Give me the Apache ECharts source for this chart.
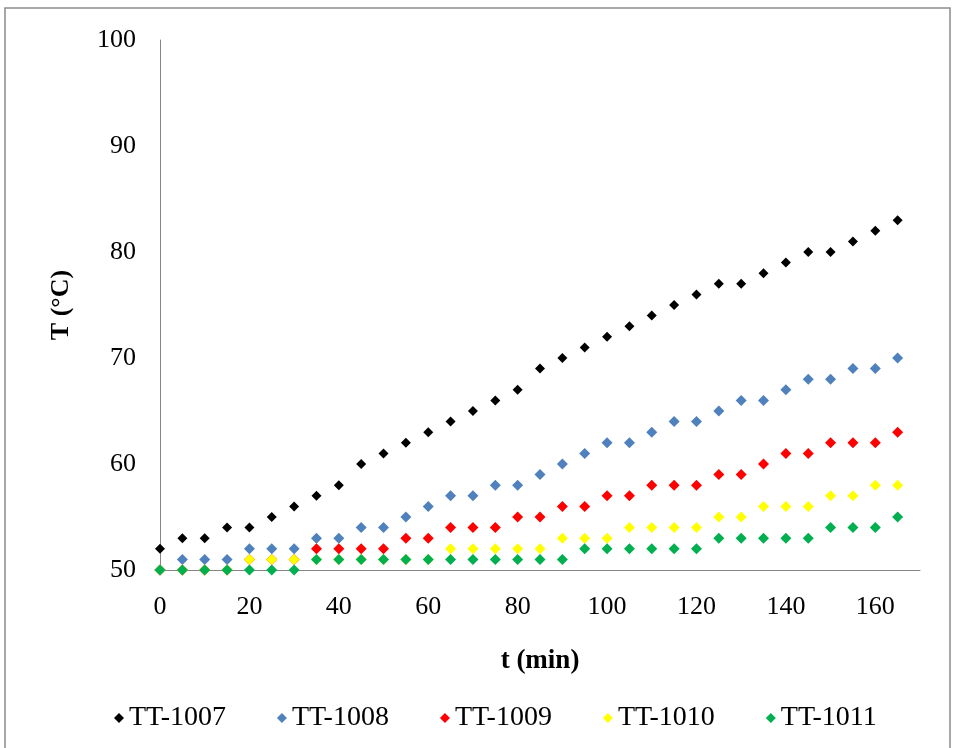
<!DOCTYPE html>
<html>
<head>
<meta charset="utf-8">
<script src="https://cdn.jsdelivr.net/npm/echarts@6/dist/echarts.min.js"></script>
<style>
  html, body { margin: 0; padding: 0; background: #fff; }
  #main { width: 958px; height: 748px; }
</style>
</head>
<body>
<div id="main"></div>
<script>
// time in minutes
const minutes = [0, 5, 10, 15, 20, 25, 30, 35, 40, 45, 50, 55, 60, 65, 70, 75, 80, 85,
  90, 95, 100, 105, 110, 115, 120, 125, 130, 135, 140, 145, 150, 155, 160, 165];

// temperatures (°C)
const tt1007 = [52, 53, 53, 54, 54, 55, 56, 57, 58, 60, 61, 62, 63, 64, 65, 66, 67, 69,
  70, 71, 72, 73, 74, 75, 76, 77, 77, 78, 79, 80, 80, 81, 82, 83];
const tt1008 = [50, 51, 51, 51, 52, 52, 52, 53, 53, 54, 54, 55, 56, 57, 57, 58, 58, 59,
  60, 61, 62, 62, 63, 64, 64, 65, 66, 66, 67, 68, 68, 69, 69, 70];
const tt1009 = [50, 50, 50, 50, 51, 51, 51, 52, 52, 52, 52, 53, 53, 54, 54, 54, 55, 55,
  56, 56, 57, 57, 58, 58, 58, 59, 59, 60, 61, 61, 62, 62, 62, 63];
const tt1010 = [50, 50, 50, 50, 51, 51, 51, 51, 51, 51, 51, 51, 51, 52, 52, 52, 52, 52,
  53, 53, 53, 54, 54, 54, 54, 55, 55, 56, 56, 56, 57, 57, 58, 58];
const tt1011 = [50, 50, 50, 50, 50, 50, 50, 51, 51, 51, 51, 51, 51, 51, 51, 51, 51, 51,
  51, 52, 52, 52, 52, 52, 52, 53, 53, 53, 53, 53, 54, 54, 54, 55];

const seriesNames = ["TT-1007", "TT-1008", "TT-1009", "TT-1010", "TT-1011"];
const seriesColors = ["#000000", "#4f81bd", "#ff0000", "#ffff00", "#00b050"];
const seriesValues = [tt1007, tt1008, tt1009, tt1010, tt1011];

const chart = echarts.init(document.getElementById("main"));
const font = "'Liberation Serif', 'Times New Roman', serif";

const option = {
  backgroundColor: "#fff",
  animation: false,
  textStyle: { fontFamily: font },
  graphic: [{
    type: "rect",
    shape: { x: 5, y: 8, width: 945, height: 760 },
    style: { fill: "none", stroke: "#8c8c8c", lineWidth: 1.5 },
    silent: true
  }],
  grid: { left: 160, right: 38, top: 40, bottom: 178, outerBoundsMode: "none" },
  legend: {
    bottom: 11,
    left: 109,
    icon: "diamond",
    itemWidth: 10,
    itemHeight: 10,
    itemGap: 51,
    textStyle: { fontFamily: font, fontSize: 28, color: "#000" },
    data: seriesNames
  },
  xAxis: {
    type: "value",
    min: 0,
    max: 170,
    interval: 20,
    name: "t (min)",
    nameLocation: "middle",
    nameGap: 78,
    nameTextStyle: { fontFamily: font, fontSize: 27, fontWeight: "bold", color: "#000" },
    axisLine: { lineStyle: { color: "#868686", width: 1 } },
    axisTick: { show: false },
    splitLine: { show: false },
    axisLabel: {
      fontFamily: font, fontSize: 26, color: "#000", margin: 24,
      showMaxLabel: false,
      formatter: v => (v % 20 === 0 ? String(v) : "")
    }
  },
  yAxis: {
    type: "value",
    min: 50,
    max: 100,
    interval: 10,
    name: "T (°C)",
    nameLocation: "middle",
    nameGap: 86,
    nameTextStyle: { fontFamily: font, fontSize: 26, fontWeight: "bold", color: "#000" },
    axisLine: { show: true, lineStyle: { color: "#868686", width: 1 } },
    axisTick: { show: false },
    splitLine: { show: false },
    axisLabel: { fontFamily: font, fontSize: 26, color: "#000", margin: 24 }
  },
  series: seriesNames.map((name, i) => ({
    name: name,
    type: "scatter",
    symbol: "diamond",
    symbolSize: i === 0 ? 10 : 11,
    itemStyle: { color: seriesColors[i], opacity: 1 },
    data: minutes.map((t, j) => [t, seriesValues[i][j]])
  }))
};

chart.setOption(option);
</script>
</body>
</html>
